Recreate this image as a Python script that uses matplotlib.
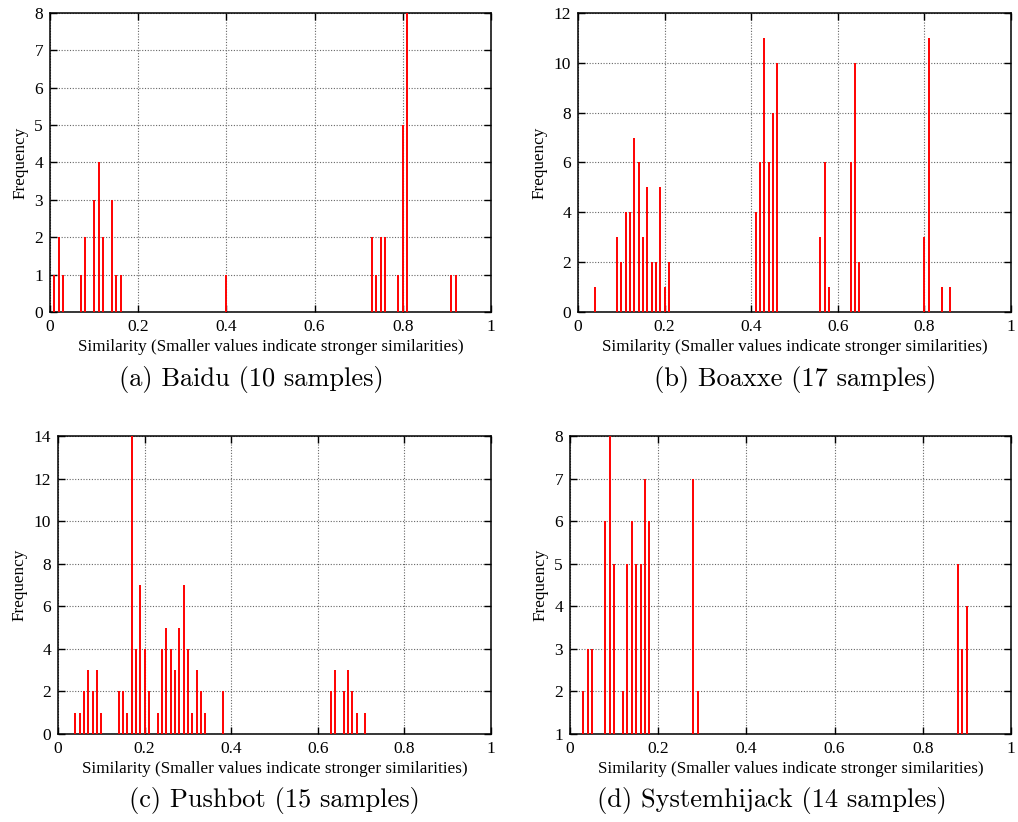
import matplotlib
matplotlib.use("Agg")
from matplotlib import pyplot as plt
import numpy as np

# similarity bins (0.01 wide) and frequencies
baidu_x = [0.01, 0.02, 0.03, 0.07, 0.08, 0.10, 0.11, 0.12, 0.14, 0.15, 0.16, 0.40,
           0.73, 0.74, 0.75, 0.76, 0.79, 0.80, 0.81, 0.91, 0.92]
baidu_y = [1, 2, 1, 1, 2, 3, 4, 2, 3, 1, 1, 1,
           2, 1, 2, 2, 1, 5, 8, 1, 1]

boaxxe_x = [0.04, 0.09, 0.10, 0.11, 0.12, 0.13, 0.14, 0.15, 0.16, 0.17, 0.18, 0.19, 0.20, 0.21,
            0.41, 0.42, 0.43, 0.44, 0.45, 0.46, 0.56, 0.57, 0.58, 0.63, 0.64, 0.65,
            0.80, 0.81, 0.84, 0.86]
boaxxe_y = [1, 3, 2, 4, 4, 7, 6, 3, 5, 2, 2, 5, 1, 2,
            4, 6, 11, 6, 8, 10, 3, 6, 1, 6, 10, 2,
            3, 11, 1, 1]

pushbot_x = [0.04, 0.05, 0.06, 0.07, 0.08, 0.09, 0.10,
             0.14, 0.15, 0.16, 0.17, 0.18, 0.19, 0.20, 0.21,
             0.23, 0.24, 0.25, 0.26, 0.27, 0.28, 0.29, 0.30, 0.31, 0.32, 0.33, 0.34, 0.38,
             0.63, 0.64, 0.66, 0.67, 0.68, 0.69, 0.71]
pushbot_y = [1, 1, 2, 3, 2, 3, 1,
             2, 2, 1, 14, 4, 7, 4, 2,
             1, 4, 5, 4, 3, 5, 7, 4, 1, 3, 2, 1, 2,
             2, 3, 2, 3, 2, 1, 1]

sysh_x = [0.03, 0.04, 0.05, 0.08, 0.09, 0.10, 0.12, 0.13, 0.14, 0.15, 0.16, 0.17, 0.18,
          0.28, 0.29, 0.88, 0.89, 0.90]
sysh_y = [2, 3, 3, 6, 8, 5, 2, 5, 6, 5, 5, 7, 6,
          7, 2, 5, 3, 4]

xticks = [0, 0.2, 0.4, 0.6, 0.8, 1]
xticklabels = ["0", "0.2", "0.4", "0.6", "0.8", "1"]
xlabel = "Similarity (Smaller values indicate stronger similarities)"

panels = [
    (baidu_x, baidu_y, (0, 8), np.arange(0, 9, 1), "(a) Baidu (10 samples)"),
    (boaxxe_x, boaxxe_y, (0, 12), np.arange(0, 13, 2), "(b) Boaxxe (17 samples)"),
    (pushbot_x, pushbot_y, (0, 14), np.arange(0, 15, 2), "(c) Pushbot (15 samples)"),
    (sysh_x, sysh_y, (1, 8), np.arange(1, 9, 1), "(d) Systemhijack (14 samples)"),
]

W, H = 1018, 822
# axes boxes in pixels: left, top, right, bottom
boxes = [(50, 13, 491, 312), (578, 13, 1011, 312),
         (58, 436, 491, 734), (570, 436, 1011, 734)]
captions_px = [(251, 379), (795, 379), (274, 800), (772, 800)]

plt.rcParams['font.family'] = ['Liberation Serif', 'DejaVu Serif']

fig = plt.figure(figsize=(W / 100, H / 100), dpi=100)

for (xs, ys, ylim, yticks, cap), (l, t, r, b), (cx, cy) in zip(panels, boxes, captions_px):
    ax = fig.add_axes([l / W, 1 - b / H, (r - l) / W, (b - t) / H])
    ax.vlines(xs, 0, ys, color='red', linewidth=1.4, zorder=3)
    ax.set_xlim(0, 1)
    ax.set_ylim(*ylim)
    ax.set_xticks(xticks)
    ax.set_xticklabels(xticklabels)
    ax.set_yticks(yticks)
    ax.grid(linestyle=(0, (1, 1.5)), color='0.4', linewidth=0.8, zorder=0)
    ax.tick_params(direction='in', top=True, right=True, length=5, width=1,
                   labelsize=12.5, pad=5)
    for sp in ax.spines.values():
        sp.set_linewidth(1.1)
    ax.set_xlabel(xlabel, fontsize=12.3, labelpad=3)
    ax.set_ylabel("Frequency", fontsize=12.3, labelpad=4)
    fig.text(cx / W, 1 - cy / H, cap, family='cmr10', fontsize=19,
             ha='center', va='center')

fig.savefig("out.png", dpi=100)
